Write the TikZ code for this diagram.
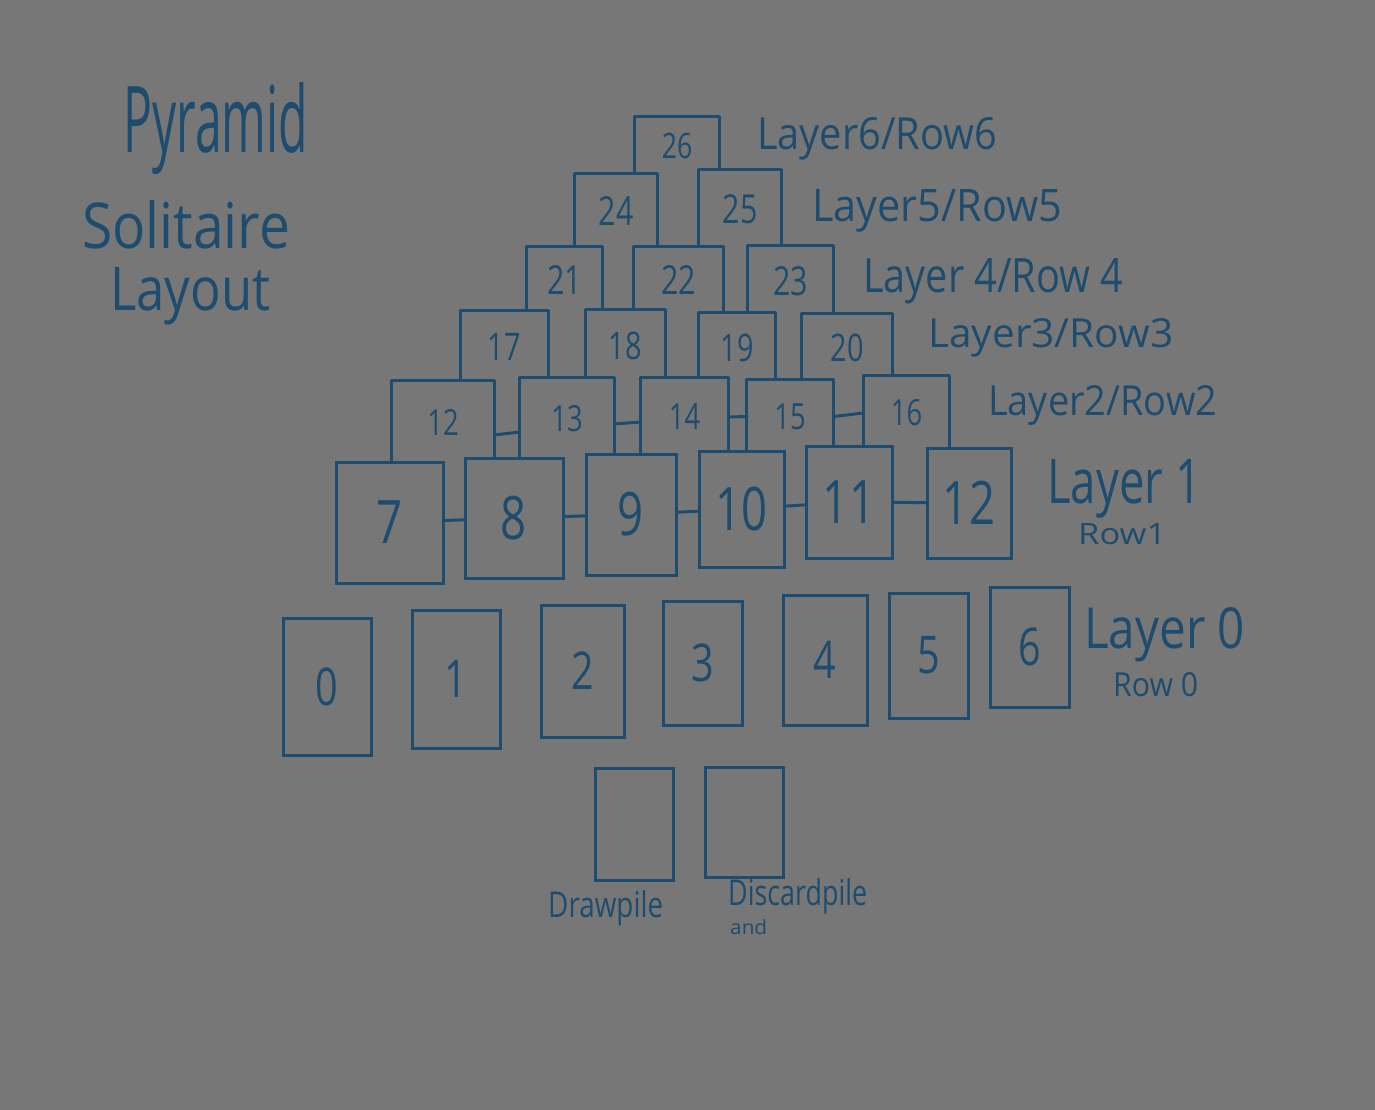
\documentclass[tikz,border=0pt]{standalone}
\usepackage{fontspec}
\setmainfont{Open Sans}
\usepackage{graphicx}
\definecolor{bg}{RGB}{119,119,119}
\definecolor{ink}{RGB}{30,76,110}
\newcommand{\fitt}[3]{\resizebox{#1pt}{#2pt}{#3}}
\newcommand{\sx}[1]{\scalebox{0.76}[1]{#1}}
\begin{document}
\begin{tikzpicture}[x=1pt,y=-1pt,
  card/.style={draw=ink, fill=bg, line width=3pt, inner sep=0pt, text=ink, font=\fontsize{#1}{#1}\selectfont},
  opencard/.style={fill=bg, inner sep=0pt, text=ink, font=\fontsize{#1}{#1}\selectfont},
  rim/.style={draw=ink, line width=3pt, line join=round, line cap=round},
  link/.style={draw=ink, line width=3pt, line cap=round},
  lab/.style={anchor=base west, inner sep=0pt, text=ink}]
\fill[bg] (0,0) rectangle (1375,1110);
\useasboundingbox (0,0) rectangle (1375,1110);
% title
\node[lab] (t1) at (123,153) {\fitt{185}{70}{Pyramid}};
\node[lab] (t2) at (82,248) {\fitt{208}{48}{Solitaire}};
\node[lab] (t3) at (110,310) {\fitt{160}{43}{Layout}};
% row 6
\node[opencard=35, minimum width=84pt, minimum height=58pt] (c26) at (677,146) {\sx{26}};
\draw[rim] (c26.south west) |- (c26.north east) -- (c26.south east);
% row 5
\node[opencard=40, minimum width=82pt, minimum height=74pt] (c24) at (616,211) {\sx{24}};
\node[opencard=40, minimum width=82pt, minimum height=78pt] (c25) at (740,209) {\sx{25}};
\foreach \n in {c24,c25} \draw[rim] (\n.south west) |- (\n.north east) -- (\n.south east);
% row 4
\node[opencard=40, minimum width=75pt, minimum height=67pt] (c21) at (564.5,280.5) {\sx{21}};
\node[opencard=40, minimum width=89pt, minimum height=67pt] (c22) at (678.5,280.5) {\sx{22}};
\node[opencard=40, minimum width=85pt, minimum height=70pt] (c23) at (790.5,281) {\sx{23}};
\foreach \n in {c21,c22,c23} \draw[rim] (\n.south west) |- (\n.north east) -- (\n.south east);
% row 3
\node[opencard=38, minimum width=87pt, minimum height=72pt] (c17) at (504.5,347) {\sx{17}};
\node[opencard=38, minimum width=79pt, minimum height=72pt] (c18) at (625.5,346) {\sx{18}};
\node[opencard=38, minimum width=76pt, minimum height=69pt] (c19) at (737,347.5) {\sx{19}};
\node[opencard=38, minimum width=90pt, minimum height=68pt] (c20) at (847,348) {\sx{20}};
\foreach \n in {c17,c18,c19,c20} \draw[rim] (\n.south west) |- (\n.north east) -- (\n.south east);
% row 2
\node[opencard=36, minimum width=102pt, minimum height=82pt] (c12) at (443,422) {\sx{12}};
\node[opencard=36, minimum width=94pt, minimum height=82pt] (c13) at (567,419) {\sx{13}};
\node[opencard=36, minimum width=87pt, minimum height=78pt] (c14) at (684.5,417) {\sx{14}};
\node[opencard=36, minimum width=86pt, minimum height=73pt] (c15) at (790,416.5) {\sx{15}};
\node[opencard=36, minimum width=85pt, minimum height=74pt] (c16) at (906.5,413) {\sx{16}};
\foreach \n in {c12,c13,c14,c15,c16} \draw[rim] (\n.south west) |- (\n.north east) -- (\n.south east);
% row 1
\node[card=60, minimum width=107pt, minimum height=121pt] (c7) at (389.5,522.5) {\sx{7}};
\node[card=60, minimum width=98pt, minimum height=120pt] (c8) at (514,518) {\sx{8}};
\node[card=60, minimum width=90pt, minimum height=121pt] (c9) at (631,514.5) {\sx{9}};
\node[card=60, minimum width=85pt, minimum height=116pt] (c10) at (741.5,509) {\sx{10}};
\node[card=60, minimum width=86pt, minimum height=112pt] (c11) at (849,502) {\sx{11}};
\node[card=60, minimum width=84pt, minimum height=110pt] (c12b) at (969,503) {\sx{12}};
% row 0
\node[card=52, minimum width=88pt, minimum height=137pt] (r0) at (327,686.5) {\sx{0}};
\node[card=52, minimum width=88pt, minimum height=138pt] (r1) at (456,679) {\sx{1}};
\node[card=52, minimum width=83pt, minimum height=132pt] (r2) at (582.5,671) {\sx{2}};
\node[card=52, minimum width=79pt, minimum height=124pt] (r3) at (702.5,663) {\sx{3}};
\node[card=52, minimum width=84pt, minimum height=130pt] (r4) at (825,660) {\sx{4}};
\node[card=52, minimum width=79pt, minimum height=125pt] (r5) at (928.5,655.5) {\sx{5}};
\node[card=52, minimum width=79pt, minimum height=120pt] (r6) at (1029.5,647) {\sx{6}};
% piles
\node[card=20, minimum width=78pt, minimum height=112pt] (draw) at (634,824) {};
\node[card=20, minimum width=78pt, minimum height=110pt] (discard) at (744,822) {};
% connectors
\draw[link] (c7) -- (c8);
\draw[link] (c8) -- (c9);
\draw[link] (c9) -- (c10);
\draw[link] (c10) -- (c11);
\draw[link] (c11) -- (c12b);
\draw[link] ([yshift=-13pt]c12.east) -- ([yshift=-13pt]c13.west);
\draw[link] ([yshift=-5pt]c13.east) -- ([yshift=-5pt]c14.west);
\draw[link] (c14) -- (c15);
\draw[link] (c15.east) -- (c16.west);
% labels
\node[lab] (l6) at (757,150) {\fitt{240}{32}{Layer6/Row6}};
\node[lab] (l5) at (812,222) {\fitt{250}{32}{Layer5/Row5}};
\node[lab] (l4) at (863,292) {\fitt{260}{34}{Layer 4/Row 4}};
\node[lab] (l3) at (928,347) {\fitt{245}{29}{Layer3/Row3}};
\node[lab] (l2) at (988,415) {\fitt{229}{30}{Layer2/Row2}};
\node[lab] (l1a) at (1047,503) {\fitt{154}{44}{Layer 1}};
\node[lab] (l1b) at (1078,544) {\fitt{88}{21}{Row1}};
\node[lab] (l0a) at (1084,648) {\fitt{161}{41}{Layer 0}};
\node[lab] (l0b) at (1113,696) {\fitt{85}{24}{Row 0}};
\node[lab] (dp) at (548,917) {\fitt{115}{27}{Drawpile}};
\node[lab] (dc) at (728,905) {\fitt{139}{27}{Discardpile}};
\node[lab] (and) at (730,934) {\fitt{37}{15}{and}};
\end{tikzpicture}
\end{document}
